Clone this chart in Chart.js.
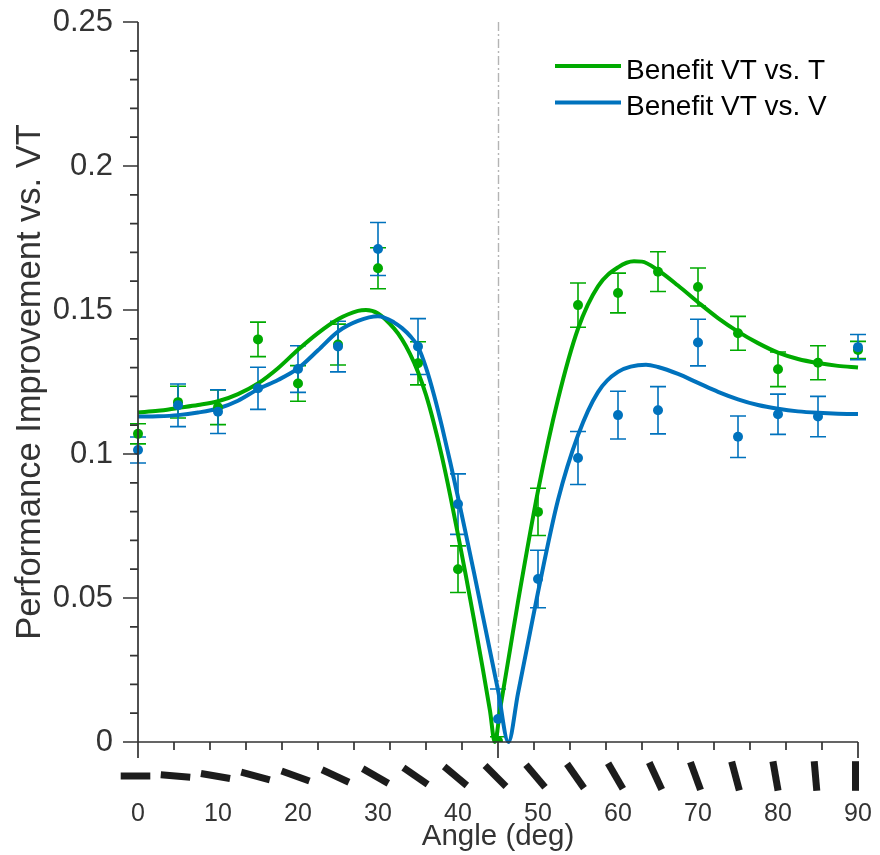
<!DOCTYPE html>
<html>
<head>
<meta charset="utf-8">
<script src="https://cdn.jsdelivr.net/npm/chart.js@4.4.1/dist/chart.umd.min.js"></script>
<style>
  html, body { margin: 0; padding: 0; background: #ffffff; }
  #wrap { width: 880px; height: 855px; }
</style>
</head>
<body>
<div id="wrap"><canvas id="chart" width="880" height="855"></canvas></div>
<script>
// Measured stimulus angles (deg)
const angles = [0, 5, 10, 15, 20, 25, 30, 35, 40, 45, 50, 55, 60, 65, 70, 75, 80, 85, 90];

// Benefit of VT over T: mean and standard error per angle
const benefitT    = [0.1070, 0.1180, 0.1162, 0.1398, 0.1245, 0.1380, 0.1645, 0.1315, 0.0600, 0.0003, 0.0799, 0.1517, 0.1559, 0.1633, 0.1580, 0.1419, 0.1294, 0.1317, 0.1361];
const benefitTErr = [0.0035, 0.0055, 0.0060, 0.0060, 0.0062, 0.0071, 0.0071, 0.0075, 0.0081, 0.0015, 0.0082, 0.0077, 0.0069, 0.0069, 0.0066, 0.0059, 0.0060, 0.0059, 0.0030];

// Benefit of VT over V: mean and standard error per angle
const benefitV    = [0.1014, 0.1169, 0.1147, 0.1228, 0.1295, 0.1373, 0.1712, 0.1373, 0.0826, 0.0080, 0.0566, 0.0986, 0.1135, 0.1152, 0.1387, 0.1060, 0.1138, 0.1130, 0.1371];
const benefitVErr = [0.0045, 0.0074, 0.0076, 0.0073, 0.0081, 0.0088, 0.0092, 0.0097, 0.0105, 0.0104, 0.0100, 0.0092, 0.0083, 0.0082, 0.0081, 0.0072, 0.0070, 0.0070, 0.0044];

// Model fit, VT vs. T
const fitTAngles = [0, 2.5, 5, 7.5, 10, 12.5, 15, 17.5, 20, 22.5, 25, 27.5, 28.5, 30, 32, 33, 34, 35, 36, 37, 38, 39, 40, 41, 42, 43, 44, 44.6, 45.3, 46.5, 47.5, 50, 52.5, 55, 57.5, 60, 62, 63, 65, 67.5, 70, 72.5, 75, 77.5, 80, 82.5, 85, 87.5, 90];
const fitTValues = [0.1144, 0.1150, 0.1160, 0.1170, 0.1183, 0.1208, 0.1245, 0.1298, 0.1362, 0.1420, 0.1468, 0.1497, 0.1500, 0.1488, 0.1436, 0.1398, 0.1348, 0.1285, 0.1205, 0.1105, 0.0990, 0.0860, 0.0720, 0.0575, 0.0425, 0.0270, 0.0108, 0.0000, 0.0120, 0.0320, 0.0487, 0.0872, 0.1190, 0.1435, 0.1582, 0.1648, 0.1669, 0.1668, 0.1638, 0.1585, 0.1527, 0.1472, 0.1425, 0.1385, 0.1352, 0.1330, 0.1316, 0.1306, 0.1300];

// Model fit, VT vs. V
const fitVAngles = [0, 2.5, 5, 7.5, 10, 12.5, 15, 17.5, 20, 22.5, 25, 27.5, 30, 32, 33, 34, 35, 36, 37, 38, 39, 40, 41, 42, 43, 44, 45, 46.3, 47.5, 49, 50, 52.5, 55, 57.5, 60, 63.5, 65, 67.5, 70, 72.5, 75, 77.5, 80, 82.5, 85, 87.5, 90];
const fitVValues = [0.1130, 0.1131, 0.1135, 0.1144, 0.1158, 0.1185, 0.1225, 0.1257, 0.1297, 0.1360, 0.1425, 0.1462, 0.1478, 0.1457, 0.1437, 0.1410, 0.1373, 0.1300, 0.1205, 0.1095, 0.0975, 0.0850, 0.0720, 0.0588, 0.0452, 0.0316, 0.0180, 0.0000, 0.0169, 0.0380, 0.0520, 0.0840, 0.1065, 0.1215, 0.1285, 0.1310, 0.1302, 0.1278, 0.1247, 0.1216, 0.1190, 0.1170, 0.1157, 0.1148, 0.1143, 0.1140, 0.1139];

// Axis tick labels
const xTickLabels = [0, 10, 20, 30, 40, 50, 60, 70, 80, 90];
const yTickLabels = [0, 0.05, 0.1, 0.15, 0.2, 0.25];

const GREEN = 'rgb(0,170,0)';
const BLUE = 'rgb(0,114,189)';
const AXIS = '#333333';
const FONT = '"Liberation Sans", Arial, Helvetica, sans-serif';

Chart.defaults.font.family = FONT;

const toPoints = (xs, ys) => xs.map((v, i) => ({ x: v, y: ys[i] }));

// Fixed axis box sizes; label overhang is absorbed by the outer layout padding
const fixBox = (w, h) => s => {
  if (w !== null) s.width = w;
  if (h !== null) s.height = h;
  s.paddingLeft = 0; s.paddingRight = 0; s.paddingTop = 0; s.paddingBottom = 0;
};

// Dash-dot reference line at 45 deg, drawn beneath the data
const refLine = {
  id: 'refLine',
  beforeDatasetsDraw(chart) {
    const { ctx, chartArea, scales: { x } } = chart;
    const px = Math.round(x.getPixelForValue(45)) + 0.5;
    ctx.save();
    ctx.strokeStyle = '#b4b4b4';
    ctx.lineWidth = 1.4;
    ctx.setLineDash([9, 3, 2, 3]);
    ctx.beginPath();
    ctx.moveTo(px, chartArea.top);
    ctx.lineTo(px, chartArea.bottom);
    ctx.stroke();
    ctx.restore();
  }
};

// Vertical error bars with caps for the point datasets
const errorBars = {
  id: 'errorBars',
  beforeDatasetsDraw(chart) {
    const { ctx, chartArea, scales: { x, y } } = chart;
    ctx.save();
    ctx.beginPath();
    ctx.rect(chartArea.left - 20, chartArea.top - 20, chartArea.right - chartArea.left + 40, chartArea.bottom - chartArea.top + 20);
    ctx.clip();
    // green first so blue sits on top
    const order = chart.data.datasets.filter(d => d.errors).slice().reverse();
    order.forEach(ds => {
      ctx.strokeStyle = ds.backgroundColor;
      ctx.lineWidth = 1.6;
      ds.data.forEach((p, i) => {
        const px = x.getPixelForValue(p.x);
        const top = y.getPixelForValue(p.y + ds.errors[i]);
        const bot = y.getPixelForValue(p.y - ds.errors[i]);
        ctx.beginPath();
        ctx.moveTo(px, top); ctx.lineTo(px, bot);
        ctx.moveTo(px - 8, top); ctx.lineTo(px + 8, top);
        ctx.moveTo(px - 8, bot); ctx.lineTo(px + 8, bot);
        ctx.stroke();
      });
    });
    ctx.restore();
  }
};

// Axis lines and major/minor tick marks
const axesFrame = {
  id: 'axesFrame',
  afterDraw(chart) {
    const { ctx, chartArea: a, scales: { x, y } } = chart;
    ctx.save();
    ctx.strokeStyle = AXIS;
    ctx.lineWidth = 1.7;
    ctx.beginPath();
    ctx.moveTo(a.left, a.top); ctx.lineTo(a.left, a.bottom); ctx.lineTo(a.right, a.bottom);
    // y ticks every 0.01, longer every 0.05
    for (let i = 0; i <= 25; i++) {
      const py = y.getPixelForValue(i / 100);
      const len = (i % 5 === 0) ? 15 : 8;
      ctx.moveTo(a.left, py); ctx.lineTo(a.left - len, py);
    }
    // x ticks every 4.5 deg, longer at 0, 45, 90
    for (let i = 0; i <= 20; i++) {
      const px = x.getPixelForValue(i * 4.5);
      const len = (i % 10 === 0) ? 16 : 8;
      ctx.moveTo(px, a.bottom); ctx.lineTo(px, a.bottom + len);
    }
    ctx.stroke();
    ctx.restore();
  }
};

// Oriented bar glyphs under the x axis showing each stimulus angle
const angleGlyphs = {
  id: 'angleGlyphs',
  afterDraw(chart) {
    const { ctx, chartArea: a, scales: { x } } = chart;
    const cy = a.bottom + 34;
    const half = 14.8;
    ctx.save();
    ctx.strokeStyle = '#1c1c1c';
    ctx.lineWidth = 7;
    ctx.lineCap = 'butt';
    angles.forEach(deg => {
      const cx = x.getPixelForValue(deg) - 2.5;
      const r = deg * Math.PI / 180;
      ctx.beginPath();
      ctx.moveTo(cx - half * Math.cos(r), cy - half * Math.sin(r));
      ctx.lineTo(cx + half * Math.cos(r), cy + half * Math.sin(r));
      ctx.stroke();
    });
    ctx.restore();
  }
};

// Legend for the two fitted curves, top-right inside the plot
const curveLegend = {
  id: 'curveLegend',
  afterDraw(chart) {
    const { ctx } = chart;
    const items = chart.data.datasets.filter(d => d.isFit).slice().reverse();
    ctx.save();
    ctx.font = '28px ' + FONT;
    ctx.textBaseline = 'middle';
    ctx.fillStyle = '#000000';
    items.forEach((ds, i) => {
      const ly = 66 + i * 36.5;
      ctx.strokeStyle = ds.borderColor;
      ctx.lineWidth = 4;
      ctx.beginPath();
      ctx.moveTo(555, ly); ctx.lineTo(621, ly);
      ctx.stroke();
      ctx.fillText(ds.label, 626, ly + 5);
    });
    ctx.restore();
  }
};

new Chart(document.getElementById('chart'), {
  type: 'scatter',
  data: {
    datasets: [
      {
        type: 'scatter', label: 'VT vs. V data',
        data: toPoints(angles, benefitV), errors: benefitVErr,
        backgroundColor: BLUE, borderColor: BLUE, pointRadius: 5, pointBorderWidth: 0,
        clip: { left: 10, top: 10, right: 10, bottom: 0 }
      },
      {
        type: 'scatter', label: 'VT vs. T data',
        data: toPoints(angles, benefitT), errors: benefitTErr,
        backgroundColor: GREEN, borderColor: GREEN, pointRadius: 5, pointBorderWidth: 0,
        clip: { left: 10, top: 10, right: 10, bottom: 0 }
      },
      {
        type: 'line', label: 'Benefit VT vs. V', isFit: true,
        data: toPoints(fitVAngles, fitVValues),
        borderColor: BLUE, backgroundColor: BLUE, borderWidth: 4, pointRadius: 0,
        cubicInterpolationMode: 'monotone', fill: false, clip: 4
      },
      {
        type: 'line', label: 'Benefit VT vs. T', isFit: true,
        data: toPoints(fitTAngles, fitTValues),
        borderColor: GREEN, backgroundColor: GREEN, borderWidth: 4, pointRadius: 0,
        cubicInterpolationMode: 'monotone', fill: false, clip: 4
      }
    ]
  },
  options: {
    responsive: false,
    animation: false,
    layout: { padding: { top: 22, right: 22, left: 0, bottom: 0 } },
    plugins: { legend: { display: false }, tooltip: { enabled: false } },
    scales: {
      x: {
        type: 'linear', position: 'bottom', min: 0, max: 90,
        afterFit: fixBox(null, 113),
        afterBuildTicks: s => { s.ticks = xTickLabels.map(v => ({ value: v })); },
        grid: { display: false, drawTicks: false },
        border: { display: false },
        ticks: { padding: 57, color: AXIS, font: { size: 25 }, autoSkip: false, maxRotation: 0, callback: v => String(v) },
        title: { display: true, text: 'Angle (deg)', color: AXIS, font: { size: 29.5 }, padding: { top: 0, bottom: 0 } }
      },
      y: {
        type: 'linear', position: 'left', min: 0, max: 0.25,
        afterFit: fixBox(138, null),
        afterBuildTicks: s => { s.ticks = yTickLabels.map(v => ({ value: v })); },
        grid: { display: false, drawTicks: false },
        border: { display: false },
        ticks: { padding: 25, color: AXIS, font: { size: 31 }, callback: v => String(v) },
        title: { display: true, text: 'Performance Improvement vs. VT', color: AXIS, font: { size: 34.5 }, padding: { top: 10, bottom: 0 } }
      }
    }
  },
  plugins: [refLine, errorBars, axesFrame, angleGlyphs, curveLegend]
});
</script>
</body>
</html>
